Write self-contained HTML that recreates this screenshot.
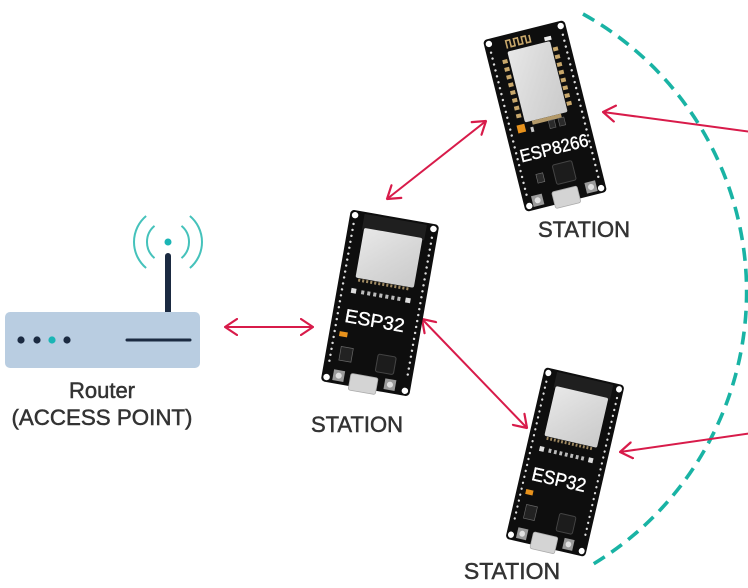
<!DOCTYPE html>
<html>
<head>
<meta charset="utf-8">
<style>
html,body{margin:0;padding:0;background:#fff;}
svg{display:block;}
text{font-family:"Liberation Sans",sans-serif;}
</style>
</head>
<body>
<svg width="748" height="588" viewBox="0 0 748 588" xmlns="http://www.w3.org/2000/svg">
<defs>
  <marker id="ah" viewBox="0 0 14 18" refX="13" refY="9" markerWidth="14" markerHeight="18" markerUnits="userSpaceOnUse" orient="auto-start-reverse">
    <path d="M1,1 L13,9 L1,17" fill="none" stroke="#d81b4a" stroke-width="2.2" stroke-linecap="round" stroke-linejoin="round"/>
  </marker>
  <linearGradient id="silver" x1="0" y1="0" x2="1" y2="1">
    <stop offset="0" stop-color="#e8e8e8"/>
    <stop offset="0.5" stop-color="#d8d8d8"/>
    <stop offset="1" stop-color="#cacaca"/>
  </linearGradient>
</defs>
<rect width="748" height="588" fill="#fff"/>

<!-- dashed arc -->
<path d="M583,14 A318,318 0 0 1 590,566" fill="none" stroke="#19b3a4" stroke-width="3.6" stroke-dasharray="13 8"/>

<!-- Router -->
<path d="M146.1,216 A34,34 0 0 0 146.1,268" fill="none" stroke="#45c2bb" stroke-width="2"/>
<path d="M154.5,225.9 A21,21 0 0 0 154.5,258.1" fill="none" stroke="#45c2bb" stroke-width="2"/>
<path d="M189.9,216 A34,34 0 0 1 189.9,268" fill="none" stroke="#45c2bb" stroke-width="2"/>
<path d="M181.5,225.9 A21,21 0 0 1 181.5,258.1" fill="none" stroke="#45c2bb" stroke-width="2"/>
<circle cx="168" cy="242" r="3.5" fill="#1ab5b5"/>
<line x1="168" y1="256" x2="168" y2="314" stroke="#1b2a41" stroke-width="6" stroke-linecap="round"/>
<rect x="5" y="312" width="195" height="56" rx="5" fill="#b9cde1"/>
<circle cx="21" cy="340" r="3.6" fill="#1b2a41"/>
<circle cx="37" cy="340" r="3.6" fill="#1b2a41"/>
<circle cx="52" cy="340" r="3.6" fill="#1ab5b5"/>
<circle cx="67" cy="340" r="3.6" fill="#1b2a41"/>
<line x1="127" y1="340" x2="190" y2="340" stroke="#1b2a41" stroke-width="3" stroke-linecap="round"/>
<g fill="#333" stroke="#333" stroke-width="0.5">
<text x="102" y="398" font-size="22" text-anchor="middle">Router</text>
<text x="102" y="425" font-size="22" text-anchor="middle" textLength="181" lengthAdjust="spacingAndGlyphs">(ACCESS POINT)</text>
</g>

<!-- arrows -->
<g stroke="#d81b4a" stroke-width="2" fill="none">
  <line x1="225" y1="327" x2="313" y2="327" marker-start="url(#ah)" marker-end="url(#ah)"/>
  <line x1="387" y1="199" x2="486" y2="121" marker-start="url(#ah)" marker-end="url(#ah)"/>
  <line x1="422" y1="319" x2="527" y2="428" marker-start="url(#ah)" marker-end="url(#ah)"/>
  <line x1="752" y1="132" x2="603" y2="112" marker-end="url(#ah)"/>
  <line x1="752" y1="433" x2="620" y2="452" marker-end="url(#ah)"/>
</g>

<!-- ESP8266 board -->
<g transform="translate(545,116) rotate(-14) translate(-42,-88.5)">
  <rect x="0" y="0" width="84" height="177" rx="4" fill="#0e0e0e"/>
  <path d="M22,14 V6 H26 V13 H30 V6 H34 V13 H38 V6 H42 V13 H46 V6" fill="none" stroke="#c9a86b" stroke-width="1.6"/>
  <rect x="60" y="12" width="7" height="4" fill="#eee"/>
  <line x1="16.5" y1="24" x2="16.5" y2="86" stroke="#c9a86b" stroke-width="5" stroke-dasharray="4 4"/>
  <line x1="68.5" y1="24" x2="68.5" y2="86" stroke="#c9a86b" stroke-width="5" stroke-dasharray="4 4"/>
  <rect x="21" y="17" width="44" height="73" rx="2" fill="url(#silver)"/>
  <rect x="28" y="90" width="30" height="4" fill="#b49a6a"/>
  <rect x="12" y="91" width="8" height="8" fill="#e8921c"/>
  <rect x="25" y="96" width="3" height="5" fill="#ccc"/>
  <rect x="44" y="94" width="6" height="8" fill="#2a2a2a" stroke="#666" stroke-width="0.6"/>
  <rect x="54" y="94" width="6" height="8" fill="#2a2a2a" stroke="#666" stroke-width="0.6"/>
  <text x="43" y="128" font-size="18" fill="#fff" text-anchor="middle" textLength="70" lengthAdjust="spacingAndGlyphs" stroke="#fff" stroke-width="0.4">ESP8266</text>
  <rect x="19" y="143" width="7" height="9" fill="#2a2a2a" stroke="#777" stroke-width="0.6"/>
  <rect x="37" y="138" width="20" height="20" rx="2" fill="#1c1c1c" stroke="#444" stroke-width="1"/>
  <rect x="9" y="163" width="11" height="11" fill="#9a9a9a"/>
  <circle cx="14.5" cy="168.5" r="3" fill="#e0e0e0"/>
  <rect x="64" y="163" width="11" height="11" fill="#9a9a9a"/>
  <circle cx="69.5" cy="168.5" r="3" fill="#e0e0e0"/>
  <rect x="30" y="164" width="26" height="17" rx="2" fill="#d4d4d4" stroke="#aaa" stroke-width="0.8"/>
  <line x1="5" y1="14" x2="5" y2="162" stroke="#ddd" stroke-width="2.4" stroke-linecap="round" stroke-dasharray="0 6.1"/>
  <line x1="79" y1="14" x2="79" y2="162" stroke="#ddd" stroke-width="2.4" stroke-linecap="round" stroke-dasharray="0 6.1"/>
  <circle cx="5" cy="5" r="3.2" fill="#fff"/>
  <circle cx="79" cy="5" r="3.2" fill="#fff"/>
  <circle cx="5" cy="172" r="3.2" fill="#fff"/>
  <circle cx="79" cy="172" r="3.2" fill="#fff"/>
</g>
<text x="584" y="237" font-size="22" fill="#333" stroke="#333" stroke-width="0.5" text-anchor="middle">STATION</text>

<!-- ESP32 middle -->
<g transform="translate(380,303) rotate(10) scale(1.02,0.99) translate(-44,-88)">
  <rect x="0" y="0" width="88" height="176" rx="4" fill="#0e0e0e"/>
  <rect x="14" y="2" width="62" height="16" fill="#1f1f1f"/>
  <rect x="16" y="16" width="58" height="51" rx="2" fill="url(#silver)"/>
  <line x1="19" y1="69" x2="71" y2="69" stroke="#a08a62" stroke-width="3" stroke-dasharray="2 2"/>
  <rect x="14" y="78" width="5" height="5" fill="#ddd"/>
  <line x1="24" y1="80.5" x2="64" y2="80.5" stroke="#bbb" stroke-width="4" stroke-dasharray="3 3"/>
  <rect x="68" y="78" width="5" height="5" fill="#ddd"/>
  <text x="42" y="113" font-size="19" fill="#fff" text-anchor="middle" stroke="#fff" stroke-width="0.4">ESP32</text>
  <rect x="10" y="123" width="8" height="5" fill="#e8921c"/>
  <rect x="14" y="138" width="12" height="14" fill="#222" stroke="#666" stroke-width="0.7"/>
  <rect x="51" y="139" width="18" height="18" rx="2" fill="#1c1c1c" stroke="#444" stroke-width="1"/>
  <rect x="11" y="162" width="11" height="11" fill="#9a9a9a"/>
  <circle cx="16.5" cy="167.5" r="3" fill="#e0e0e0"/>
  <rect x="62" y="162" width="11" height="11" fill="#9a9a9a"/>
  <circle cx="67.5" cy="167.5" r="3" fill="#e0e0e0"/>
  <rect x="28" y="163" width="27" height="17" rx="2" fill="#d4d4d4" stroke="#aaa" stroke-width="0.8"/>
  <line x1="5" y1="14" x2="5" y2="160" stroke="#ddd" stroke-width="2.4" stroke-linecap="round" stroke-dasharray="0 6.1"/>
  <line x1="83" y1="14" x2="83" y2="160" stroke="#ddd" stroke-width="2.4" stroke-linecap="round" stroke-dasharray="0 6.1"/>
  <circle cx="5" cy="5" r="3.2" fill="#fff"/>
  <circle cx="83" cy="5" r="3.2" fill="#fff"/>
  <circle cx="5" cy="171" r="3.2" fill="#fff"/>
  <circle cx="83" cy="171" r="3.2" fill="#fff"/>
</g>
<text x="357" y="432" font-size="22" fill="#333" stroke="#333" stroke-width="0.5" text-anchor="middle">STATION</text>

<!-- ESP32 bottom -->
<g transform="translate(565,462) rotate(13) scale(0.93,1) translate(-44,-88)">
  <rect x="0" y="0" width="88" height="176" rx="4" fill="#0e0e0e"/>
  <rect x="14" y="2" width="62" height="16" fill="#1f1f1f"/>
  <rect x="16" y="16" width="58" height="51" rx="2" fill="url(#silver)"/>
  <line x1="19" y1="69" x2="71" y2="69" stroke="#a08a62" stroke-width="3" stroke-dasharray="2 2"/>
  <rect x="14" y="78" width="5" height="5" fill="#ddd"/>
  <line x1="24" y1="80.5" x2="64" y2="80.5" stroke="#bbb" stroke-width="4" stroke-dasharray="3 3"/>
  <rect x="68" y="78" width="5" height="5" fill="#ddd"/>
  <text x="42" y="113" font-size="19" fill="#fff" text-anchor="middle" stroke="#fff" stroke-width="0.4">ESP32</text>
  <rect x="10" y="123" width="8" height="5" fill="#e8921c"/>
  <rect x="14" y="138" width="12" height="14" fill="#222" stroke="#666" stroke-width="0.7"/>
  <rect x="51" y="139" width="18" height="18" rx="2" fill="#1c1c1c" stroke="#444" stroke-width="1"/>
  <rect x="11" y="162" width="11" height="11" fill="#9a9a9a"/>
  <circle cx="16.5" cy="167.5" r="3" fill="#e0e0e0"/>
  <rect x="62" y="162" width="11" height="11" fill="#9a9a9a"/>
  <circle cx="67.5" cy="167.5" r="3" fill="#e0e0e0"/>
  <rect x="28" y="163" width="27" height="17" rx="2" fill="#d4d4d4" stroke="#aaa" stroke-width="0.8"/>
  <line x1="5" y1="14" x2="5" y2="160" stroke="#ddd" stroke-width="2.4" stroke-linecap="round" stroke-dasharray="0 6.1"/>
  <line x1="83" y1="14" x2="83" y2="160" stroke="#ddd" stroke-width="2.4" stroke-linecap="round" stroke-dasharray="0 6.1"/>
  <circle cx="5" cy="5" r="3.2" fill="#fff"/>
  <circle cx="83" cy="5" r="3.2" fill="#fff"/>
  <circle cx="5" cy="171" r="3.2" fill="#fff"/>
  <circle cx="83" cy="171" r="3.2" fill="#fff"/>
</g>
<text x="512" y="579" font-size="23" fill="#333" stroke="#333" stroke-width="0.5" text-anchor="middle">STATION</text>
</svg>
</body>
</html>
